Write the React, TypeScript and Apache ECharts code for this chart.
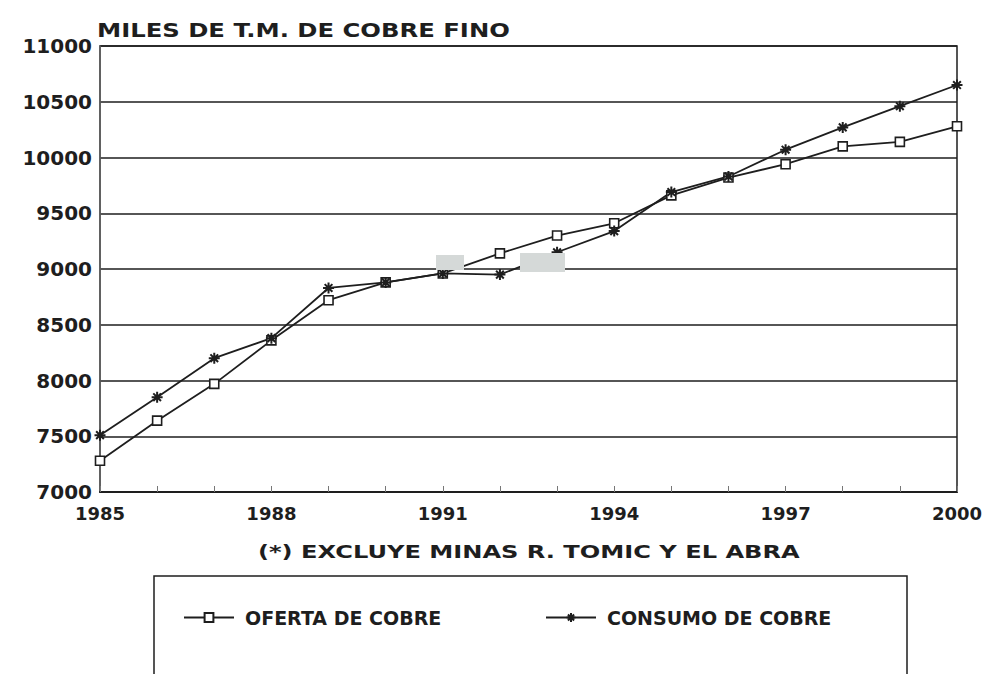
import React, { useEffect, useRef } from "react";
import * as echarts from "echarts";

const years = [1985, 1986, 1987, 1988, 1989, 1990, 1991, 1992, 1993, 1994, 1995, 1996, 1997, 1998, 1999, 2000];
const oferta = [7280, 7640, 7970, 8360, 8720, 8880, 8960, 9140, 9300, 9410, 9660, 9820, 9940, 10100, 10140, 10280];
const consumo = [7510, 7850, 8200, 8380, 8830, 8880, 8960, 8950, 9150, 9340, 9690, 9830, 10070, 10270, 10460, 10650];
const labelYears = [1985, 1988, 1991, 1994, 1997, 2000];
const seriesNames = ["OFERTA DE COBRE", "CONSUMO DE COBRE"];
const titleText = "MILES DE T.M. DE COBRE FINO";
const noteText = "(*) EXCLUYE MINAS R. TOMIC Y EL ABRA";

const FONT = '"DejaVu Sans", "Liberation Sans", sans-serif';
const INK = "#1e1e1e";

function measure(text: string, size: number): number {
  const c = document.createElement("canvas").getContext("2d");
  if (!c) return text.length * size * 0.7;
  c.font = `bold ${size}px "DejaVu Sans"`;
  return c.measureText(text).width;
}

const asterisk = "path://M0,5L10,5M5,0L5,10M1.5,1.5L8.5,8.5M8.5,1.5L1.5,8.5";

export default function App() {
  const ref = useRef<HTMLDivElement>(null);
  useEffect(() => {
    if (!ref.current) return;
    const chart = echarts.init(ref.current, undefined, { renderer: "svg" });
    const titleSize = 19;
    const noteSize = 18;
    const titleScale = 413 / measure(titleText, titleSize);
    const noteScale = 542 / measure(noteText, noteSize);

    const legendCommon = {
      top: 603,
      itemWidth: 50,
      itemHeight: 11,
      textStyle: { fontFamily: FONT, fontWeight: "bold" as const, fontSize: 19, color: INK, padding: [0, 0, 0, 6] },
      selectedMode: false,
    };

    chart.setOption({
      animation: false,
      backgroundColor: "#ffffff",
      grid: { left: 100, right: 37, top: 46, bottom: 182, show: true, borderColor: INK, borderWidth: 1.5 },
      xAxis: {
        type: "value",
        min: 1985,
        max: 2000,
        interval: 1,
        axisLine: { show: true, lineStyle: { color: INK, width: 2 } },
        axisTick: { show: true, inside: true, length: 6, lineStyle: { color: "#777", width: 1 } },
        splitLine: { show: false },
        axisLabel: {
          margin: 12,
          fontFamily: FONT,
          fontWeight: "bold",
          fontSize: 18,
          color: INK,
          formatter: (v: number) => (labelYears.includes(v) ? String(v) : ""),
        },
      },
      yAxis: {
        type: "value",
        min: 7000,
        max: 11000,
        interval: 500,
        axisLine: { show: true, lineStyle: { color: "#666", width: 1.5 } },
        axisTick: { show: false },
        splitLine: { show: true, lineStyle: { color: INK, width: 1.5 } },
        axisLabel: {
          margin: 8,
          fontFamily: FONT,
          fontWeight: "bold",
          fontSize: 20,
          color: INK,
          formatter: (v: number) => String(v),
        },
      },
      legend: [
        { ...legendCommon, left: 178, data: [seriesNames[0]] },
        { ...legendCommon, left: 540, data: [seriesNames[1]] },
      ],
      series: [
        {
          name: seriesNames[0],
          type: "line",
          data: years.map((y, i) => [y, oferta[i]]),
          symbol: "rect",
          symbolSize: 9,
          showAllSymbol: true,
          lineStyle: { color: INK, width: 1.8 },
          itemStyle: { color: "#ffffff", borderColor: INK, borderWidth: 1.6 },
        },
        {
          name: seriesNames[1],
          type: "line",
          data: years.map((y, i) => [y, consumo[i]]),
          symbol: asterisk,
          symbolSize: 11,
          showAllSymbol: true,
          lineStyle: { color: INK, width: 1.8 },
          itemStyle: { color: INK, borderColor: INK, borderWidth: 2 },
        },
      ],
      graphic: [
        {
          type: "text",
          x: 97,
          y: 30,
          scaleX: titleScale,
          style: { text: titleText, fontFamily: FONT, fontWeight: "bold", fontSize: titleSize, fill: INK, textAlign: "left", textVerticalAlign: "middle" },
        },
        {
          type: "text",
          x: 258,
          y: 552,
          scaleX: noteScale,
          style: { text: noteText, fontFamily: FONT, fontWeight: "bold", fontSize: noteSize, fill: INK, textAlign: "left", textVerticalAlign: "middle" },
        },
        {
          type: "rect",
          z: 100,
          shape: { x: 154, y: 576, width: 753, height: 130 },
          style: { fill: "none", stroke: INK, lineWidth: 1.5 },
        },
        { type: "rect", z: 100, shape: { x: 436, y: 255, width: 28, height: 15 }, style: { fill: "#d5d9d8" } },
        { type: "rect", z: 100, shape: { x: 520, y: 253, width: 45, height: 19 }, style: { fill: "#d5d9d8" } },
      ],
    });
    return () => chart.dispose();
  }, []);
  return <div ref={ref} style={{ position: "fixed", left: 0, top: 0, width: 994, height: 674, background: "#fff" }} />;
}
